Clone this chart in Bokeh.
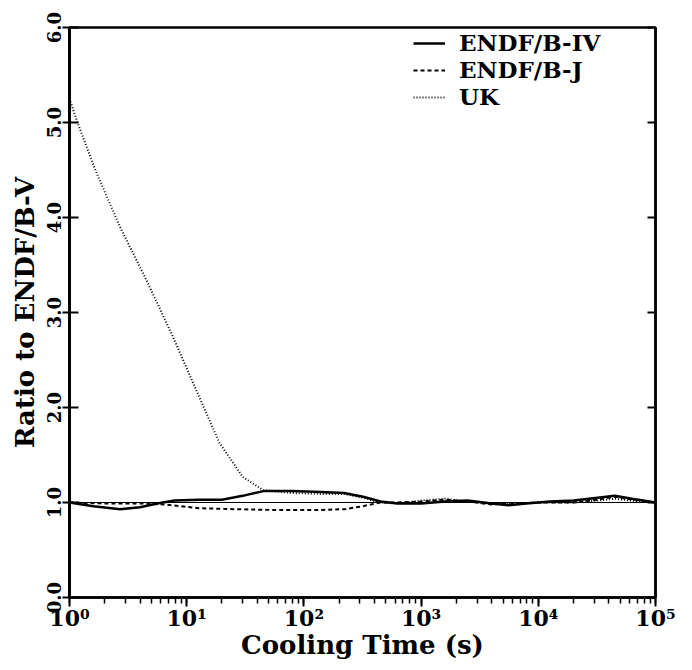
from bokeh.plotting import figure
from bokeh.models import LinearAxis, FixedTicker, Range1d, Legend, LegendItem, NumeralTickFormatter
from bokeh.embed import file_html
from bokeh.resources import INLINE

# ---- data ----
iv_t = [1, 1.6, 2.7, 4, 5.6, 7.9, 12.6, 20, 30, 45, 79, 140, 220, 320, 450, 630,
        1000, 1600, 2500, 4000, 5600, 7900, 12600, 20000, 32000, 45000, 63000, 100000]
iv_v = [1.00, 0.96, 0.93, 0.95, 0.99, 1.02, 1.03, 1.03, 1.07, 1.12, 1.12, 1.11, 1.10, 1.06, 1.01, 0.99,
        0.99, 1.01, 1.02, 0.99, 0.97, 0.99, 1.01, 1.02, 1.05, 1.07, 1.04, 1.00]

j_t = [1, 2, 4, 6.3, 12.6, 25, 63, 126, 224, 316, 447, 630, 1000, 1600, 2500, 4000,
       6300, 10000, 20000, 32000, 45000, 63000, 100000]
j_v = [1.00, 0.99, 0.99, 0.98, 0.94, 0.93, 0.92, 0.92, 0.93, 0.96, 1.00, 1.00, 1.01, 1.03, 1.01, 0.98,
       0.99, 1.00, 1.00, 1.03, 1.06, 1.03, 1.00]

uk_t = [1, 1.17, 1.66, 2.7, 4.5, 7.6, 11.9, 19, 30, 45, 79, 140, 220, 320, 450, 630,
        1000, 1600, 2500, 4000, 6300, 10000, 20000, 32000, 45000, 63000, 100000]
uk_v = [5.25, 5.00, 4.50, 3.90, 3.35, 2.75, 2.20, 1.63, 1.27, 1.13, 1.10, 1.09, 1.09, 1.05, 1.00, 0.99,
        1.02, 1.04, 1.01, 0.99, 0.99, 1.00, 1.00, 1.02, 1.04, 1.02, 1.00]

ref_t = [1, 100000]
ref_v = [1.0, 1.0]

y_ticks = [0, 1, 2, 3, 4, 5, 6]
x_ticks = [1, 10, 100, 1000, 10000, 100000]
x_tick_labels = ["10⁰", "10¹", "10²", "10³", "10⁴", "10⁵"]

series_names = ["ENDF/B-IV", "ENDF/B-J", "UK"]
x_title = "Cooling Time (s)"
y_title = "Ratio to ENDF/B-V"

FONT = "DejaVu Serif"

p = figure(width=676, height=662, x_axis_type="log",
           x_range=Range1d(1, 100000), y_range=Range1d(0, 6),
           output_backend="svg", toolbar_location=None,
           min_border_left=69, min_border_right=21, min_border_top=27, min_border_bottom=56)
p.background_fill_color = "white"
p.border_fill_color = "white"
p.xgrid.visible = False
p.ygrid.visible = False
p.outline_line_color = "black"
p.outline_line_width = 2.5

p.line(ref_t, ref_v, line_color="black", line_width=1)
r_iv = p.line(iv_t, iv_v, line_color="black", line_width=2.5)
r_j = p.line(j_t, j_v, line_color="black", line_width=2, line_dash="4 3")
r_uk = p.line(uk_t, uk_v, line_color="black", line_width=2, line_dash="1 2")

legend = Legend(items=[LegendItem(label=series_names[0], renderers=[r_iv]),
                       LegendItem(label=series_names[1], renderers=[r_j]),
                       LegendItem(label=series_names[2], renderers=[r_uk])],
                location=(344, 487))
legend.border_line_color = None
legend.background_fill_alpha = 0
legend.label_text_font = FONT
legend.label_text_font_style = "bold"
legend.label_text_font_size = "23px"
legend.label_text_color = "black"
legend.glyph_width = 32
legend.label_height = 20
legend.glyph_height = 20
legend.spacing = 0
legend.padding = 4
legend.margin = 0
legend.label_standoff = 14
p.add_layout(legend)

# x axis
xa = p.xaxis[0]
xa.ticker.num_minor_ticks = 10
xa.major_label_overrides = {t: l for t, l in zip(x_ticks, x_tick_labels)}
xa.axis_label = x_title
xa.axis_label_text_font = FONT
xa.axis_label_text_font_style = "bold"
xa.axis_label_text_font_size = "26px"
xa.axis_label_text_color = "black"
xa.axis_label_standoff = -4
xa.major_label_text_font = FONT
xa.major_label_text_font_style = "bold"
xa.major_label_text_font_size = "22px"
xa.major_label_text_color = "black"
xa.major_label_standoff = -2
xa.axis_line_width = 2.5
xa.major_tick_in = 0
xa.major_tick_out = 9
xa.minor_tick_in = 0
xa.minor_tick_out = 6
xa.major_tick_line_width = 2
xa.minor_tick_line_width = 1.5

# y axis
ya = p.yaxis[0]
ya.ticker = FixedTicker(ticks=y_ticks, minor_ticks=[])
ya.formatter = NumeralTickFormatter(format="0.0")
ya.axis_label = y_title
ya.axis_label_text_font = FONT
ya.axis_label_text_font_style = "bold"
ya.axis_label_text_font_size = "26px"
ya.axis_label_text_color = "black"
ya.axis_label_standoff = 4
ya.major_label_text_font = FONT
ya.major_label_text_font_style = "bold"
ya.major_label_text_font_size = "18px"
ya.major_label_text_color = "black"
ya.major_label_orientation = "vertical"
ya.major_label_standoff = 2
ya.axis_line_width = 3
ya.major_tick_in = 9
ya.major_tick_out = 7
ya.major_tick_line_width = 2

# right axis: inward ticks only, no labels
ra = LinearAxis(ticker=FixedTicker(ticks=y_ticks, minor_ticks=[]))
ra.major_label_overrides = {t: "" for t in y_ticks}
ra.major_tick_in = 8
ra.major_tick_out = 0
ra.major_tick_line_width = 2
ra.axis_line_width = 2.5
ra.major_label_standoff = 0
p.add_layout(ra, "right")

open("out.html", "w").write(file_html(p, INLINE))
